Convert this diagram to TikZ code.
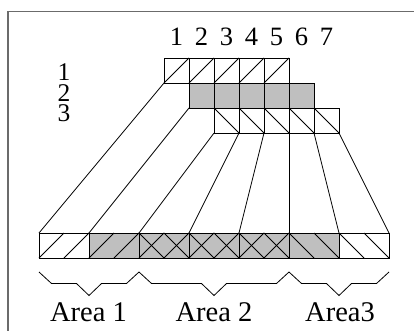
\documentclass[tikz,border=0pt]{standalone}
\usepackage{fontspec}
\setmainfont{Liberation Serif}
\begin{document}
\begin{tikzpicture}[x=1pt,y=-1pt,line width=0.8pt,line join=miter,
  frameline/.style={draw=black!58,line width=1.6pt},
  graycell/.style={fill=black!25},
  collabel/.style={anchor=base,inner sep=0pt,font=\fontsize{26.5}{26.5}\selectfont},
  rowlabel/.style={anchor=base,inner sep=0pt,font=\fontsize{25.5}{25.5}\selectfont},
  arealabel/.style={anchor=base,inner sep=0pt,font=\fontsize{28.5}{28.5}\selectfont}]
\useasboundingbox (0,0) rectangle (414,331);
% frame
\draw[frameline] (8,332) -- (8,11.5) -- (415,11.5);
% column labels
\foreach \i in {1,...,7}
  \node[collabel] (c\i) at ({176.5+25*(\i-1)},46) {\i};
% row labels
\node[rowlabel] (r1) at (64,81) {1};
\node[rowlabel] (r2) at (64,101.5) {2};
\node[rowlabel] (r3) at (64,122) {3};
% row 2 (gray)
\fill[graycell] (189,83) rectangle (314,108);
% row 1
\foreach \k in {0,...,4} {
  \draw ({164+25*\k},58) rectangle ({189+25*\k},83);
  \draw ({164+25*\k},83) -- ({189+25*\k},58);
}
% row 2
\foreach \k in {0,...,4}
  \draw ({189+25*\k},83) rectangle ({214+25*\k},108);
% row 3
\foreach \k in {0,...,4} {
  \draw ({214+25*\k},108) rectangle ({239+25*\k},133);
  \draw ({214+25*\k},108) -- ({239+25*\k},133);
}
% bottom bar
\fill[graycell] (89,233) rectangle (339,258);
\foreach \k in {0,...,9}
  \draw ({39+25*\k},258) -- ({64+25*\k},233);
\foreach \k in {4,...,13}
  \draw ({39+25*\k},233) -- ({64+25*\k},258);
\draw (39,233) rectangle (389,258);
\foreach \x in {89,139,189,239,289,339}
  \draw (\x,233) -- (\x,258);
% fan lines
\coordinate (t1) at (164,83); \coordinate (b1) at (39,233);
\coordinate (t2) at (189,108); \coordinate (b2) at (89,233);
\coordinate (t3) at (214,133); \coordinate (b3) at (139,233);
\coordinate (t4) at (239,133); \coordinate (b4) at (189,233);
\coordinate (t5) at (264,133); \coordinate (b5) at (239,233);
\coordinate (t6) at (289,133); \coordinate (b6) at (289,233);
\coordinate (t7) at (314,133); \coordinate (b7) at (339,233);
\coordinate (t8) at (339,133); \coordinate (b8) at (389,233);
\foreach \i in {1,...,8}
  \draw (t\i) -- (b\i);
% braces
\foreach \a/\b in {39/139,139/289,289/389} {
  \pgfmathsetmacro{\c}{(\a+\b)/2}
  \draw (\a,272) -- (\a+12.5,283.5) -- (\c-12.5,283.5) -- (\c,295.5)
        -- (\c+12.5,283.5) -- (\b-12.5,283.5) -- (\b,272);
}
% area labels
\node[arealabel] (a1) at (88.5,321.5) {Area 1};
\node[arealabel] (a2) at (214,321.5) {Area 2};
\node[arealabel] (a3) at (340,321.5) {Area3};
\end{tikzpicture}
\end{document}
